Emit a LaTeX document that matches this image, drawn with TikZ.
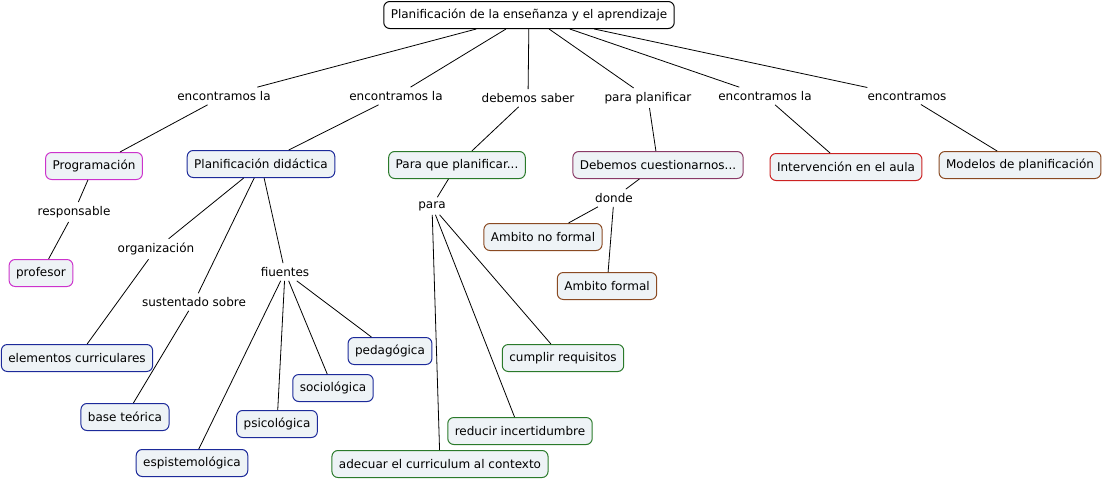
\documentclass[tikz,border=0pt]{standalone}
\usepackage{fontspec}
\setmainfont{DejaVu Sans}
\usepackage{xcolor}
\usetikzlibrary{positioning}

\definecolor{boxfill}{HTML}{EEF3F6}
\definecolor{cmagenta}{HTML}{CC33CC}
\definecolor{cblue}{HTML}{1C2A9A}
\definecolor{cgreen}{HTML}{2A7A2A}
\definecolor{cplum}{HTML}{8A3A66}
\definecolor{cred}{HTML}{CC2222}
\definecolor{cbrown}{HTML}{8A4A22}

\tikzset{
  concept/.style={draw, line width=1pt, rounded corners=6pt, fill=boxfill, inner xsep=7pt, minimum height=27pt, font=\fontsize{12}{14}\selectfont},
  link/.style={inner sep=4pt, font=\fontsize{12}{14}\selectfont},
  edge/.style={line width=0.8pt, black}
}

\begin{document}
\begin{tikzpicture}[x=1pt, y=-1pt]
  \useasboundingbox (0,0) rectangle (1104,479);

  % Root concept
  \node[concept, draw=black, fill=white] (root) at (529,15) {Planificación de la enseñanza y el aprendizaje};

  % First level linking phrases
  \node[link] (encA) at (224,96) {encontramos la};
  \node[link] (encB) at (396,96) {encontramos la};
  \node[link] (saber) at (528,98) {debemos saber};
  \node[link] (paraplan) at (648,98) {para planificar};
  \node[link] (encC) at (765,96) {encontramos la};
  \node[link] (encD) at (907,96) {encontramos};

  % First level concepts
  \node[concept, draw=cmagenta] (prog) at (94,166) {Programación};
  \node[concept, draw=cblue] (pdid) at (261,164) {Planificación didáctica};
  \node[concept, draw=cgreen] (pque) at (457,165) {Para que planificar...};
  \node[concept, draw=cplum] (cuest) at (658,165) {Debemos cuestionarnos...};
  \node[concept, draw=cred] (interv) at (846,167) {Intervención en el aula};
  \node[concept, draw=cbrown] (model) at (1020,165) {Modelos de planificación};

  \foreach \l/\c in {encA/prog, encB/pdid, saber/pque, paraplan/cuest, encC/interv, encD/model}
    \draw[edge] (root) -- (\l) -- (\c);

  % Programacion branch
  \node[link] (resp) at (74,212) {responsable};
  \node[concept, draw=cmagenta] (prof) at (41,273) {profesor};
  \draw[edge] (prog) -- (resp) -- (prof);

  % Planificacion didactica branch
  \node[link] (organ) at (156,249) {organización};
  \node[link] (sust) at (194,302) {sustentado sobre};
  \node[link] (fuen) at (285,272) {fiuentes};
  \node[concept, draw=cblue] (elem) at (77,358) {elementos curriculares};
  \node[concept, draw=cblue] (base) at (125,417) {base teórica};
  \node[concept, draw=cblue] (epis) at (192,463) {espistemológica};
  \node[concept, draw=cblue] (psic) at (277,424) {psicológica};
  \node[concept, draw=cblue] (soci) at (333,388) {sociológica};
  \node[concept, draw=cblue] (peda) at (390,351) {pedagógica};
  \draw[edge] (pdid) -- (organ) -- (elem);
  \draw[edge] (pdid) -- (sust) -- (base);
  \draw[edge] (pdid) -- (fuen);
  \foreach \c in {epis, psic, soci, peda}
    \draw[edge] (fuen) -- (\c);

  % Para que planificar branch
  \node[link] (para) at (432,206) {para};
  \node[concept, draw=cgreen] (adec) at (440,464) {adecuar el curriculum al contexto};
  \node[concept, draw=cgreen] (redu) at (520,431) {reducir incertidumbre};
  \node[concept, draw=cgreen] (cump) at (563,358) {cumplir requisitos};
  \draw[edge] (pque) -- (para);
  \foreach \c in {adec, redu, cump}
    \draw[edge] (para) -- (\c);

  % Debemos cuestionarnos branch
  \node[link] (donde) at (614,198) {donde};
  \node[concept, draw=cbrown] (nofor) at (543,237) {Ambito no formal};
  \node[concept, draw=cbrown] (formal) at (607,286) {Ambito formal};
  \draw[edge] (cuest) -- (donde);
  \draw[edge] (donde) -- (nofor);
  \draw[edge] (donde) -- (formal);
\end{tikzpicture}
\end{document}
